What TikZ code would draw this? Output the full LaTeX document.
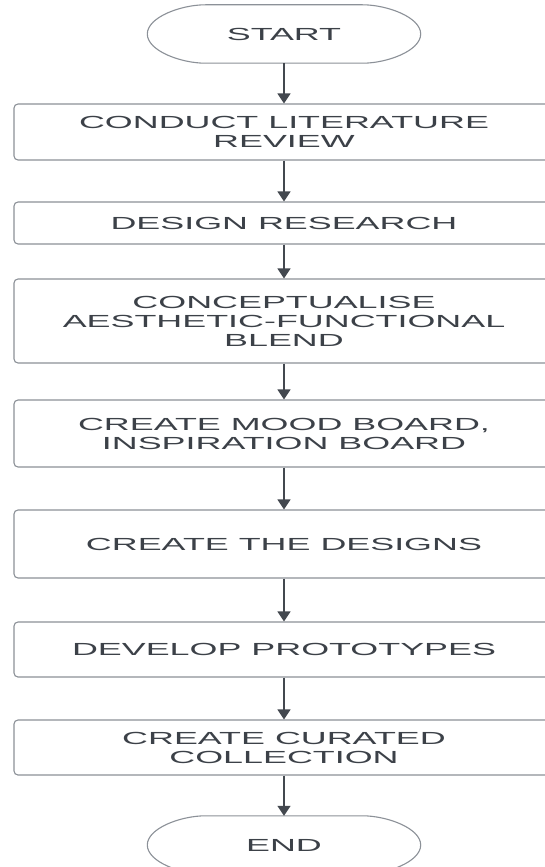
\documentclass[tikz,border=0pt]{standalone}
\usepackage{fontspec}
\usetikzlibrary{arrows.meta}
\newfontfamily\boxfont[FakeStretch=2.05]{Liberation Sans}
\definecolor{txtc}{HTML}{3C4148}
\definecolor{boxc}{HTML}{8C9198}
\definecolor{arrc}{HTML}{43484F}
\newcommand{\termoutline}[1]{\draw[boxc,line width=1.1pt] (#1.west)
  .. controls +(0,-17) and +(-24,0) .. ([xshift=58pt]#1.north west)
  -- ([xshift=-58pt]#1.north east)
  .. controls +(24,0) and +(0,-17) .. (#1.east)
  .. controls +(0,17) and +(24,0) .. ([xshift=-58pt]#1.south east)
  -- ([xshift=58pt]#1.south west)
  .. controls +(-24,0) and +(0,17) .. (#1.west);}
\begin{document}
\begin{tikzpicture}[x=1pt,y=-1pt,
  stepbox/.style={draw=boxc,line width=1.1pt,rounded corners=4pt,minimum width=540pt,
    inner sep=0pt,align=center,text=txtc,font=\boxfont\fontsize{17.5}{19}\selectfont},
  termbox/.style={rectangle,minimum width=273pt,inner sep=0pt,
    minimum height=58pt,text=txtc,font=\boxfont\fontsize{17.5}{19}\selectfont},
  flow/.style={draw=arrc,line width=1.2pt,-{Triangle[length=10pt,width=13pt]}}]
\useasboundingbox (0,0) rectangle (545,867);
\clip (0,0) rectangle (545,867);
\fill[white] (0,0) rectangle (545,867);
\node[termbox] (start) at (284,34) {START};
\termoutline{start}
\node[stepbox,minimum height=56pt] (s1) at (284,132) {CONDUCT LITERATURE\\REVIEW};
\node[stepbox,minimum height=42pt] (s2) at (284,223) {DESIGN RESEARCH};
\node[stepbox,minimum height=84pt] (s3) at (284,321) {CONCEPTUALISE\\AESTHETIC-FUNCTIONAL\\BLEND};
\node[stepbox,minimum height=67pt] (s4) at (284,433.5) {CREATE MOOD BOARD,\\INSPIRATION BOARD};
\node[stepbox,minimum height=68pt] (s5) at (284,544) {CREATE THE DESIGNS};
\node[stepbox,minimum height=55pt] (s6) at (284,649.5) {DEVELOP PROTOTYPES};
\node[stepbox,minimum height=55pt] (s7) at (284,747.5) {CREATE CURATED\\COLLECTION};
\node[termbox] (end) at (284,845) {END};
\termoutline{end}
\draw[flow] (start) -- (s1);
\draw[flow] (s1) -- (s2);
\draw[flow] (s2) -- (s3);
\draw[flow] (s3) -- (s4);
\draw[flow] (s4) -- (s5);
\draw[flow] (s5) -- (s6);
\draw[flow] (s6) -- (s7);
\draw[flow] (s7) -- (end);
\end{tikzpicture}
\end{document}
